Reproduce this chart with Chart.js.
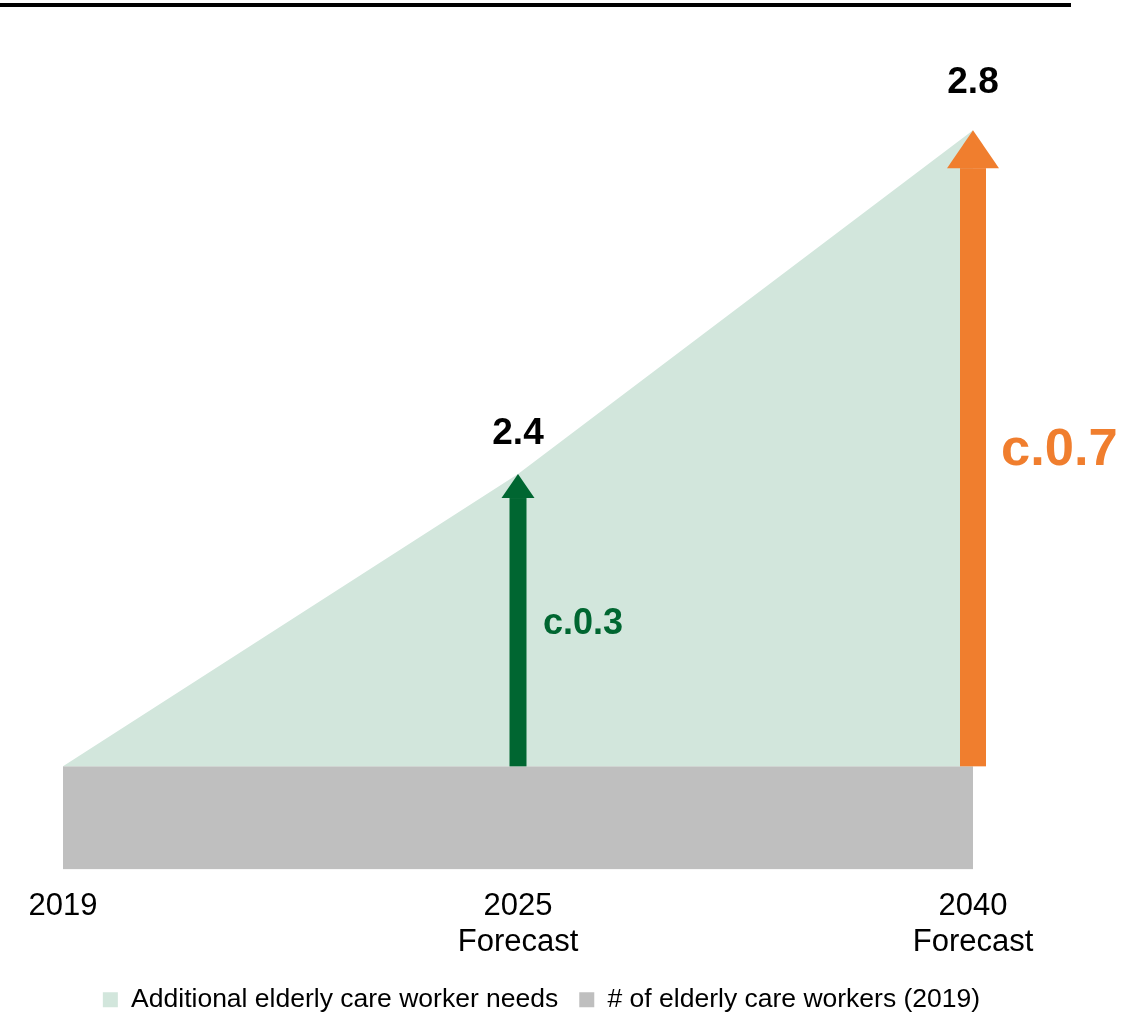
<!DOCTYPE html>
<html>
<head>
<meta charset="utf-8">
<script src="https://cdn.jsdelivr.net/npm/chart.js@4/dist/chart.umd.min.js"></script>
<style>
  html, body { margin: 0; padding: 0; background: #fff; }
  #wrap { position: relative; width: 1137px; height: 1013px; }
  #rule { position: absolute; left: 0; top: 3px; width: 1071px; height: 4px; background: #000; }
  #chart { position: absolute; left: 0; top: 0; }
</style>
</head>
<body>
<div id="wrap">
  <canvas id="chart" width="1137" height="1013"></canvas>
  <div id="rule"></div>
</div>
<script>
// elderly care workers, millions
const years = ['2019', ['2025', 'Forecast'], ['2040', 'Forecast']];
const workers2019 = [2.06, 2.06, 2.06];
const totalNeeds = [2.06, 2.4, 2.8];
const arrowIdx = [1, 2];

const FONT = '"Liberation Sans", Arial, sans-serif';
const LIGHT_GREEN = '#d2e6dc';
const GREY = '#bfbfbf';
const DARK_GREEN = '#006631';
const ORANGE = '#f07e2e';

// per-arrow look: 2025 then 2040
const arrowStyle = [
    { color: DARK_GREEN, shaft: 17, headW: 33, headL: 24, font: 36, dx: 25, dy: 4, gap: 30 },
    { color: ORANGE, shaft: 26, headW: 52, headL: 38, font: 52.5, dx: 28, dy: 2, gap: 37 }
];

const arrows = {
    id: 'arrows',
    afterDatasetsDraw(chart) {
        const ctx = chart.ctx;
        const x = chart.scales.x;
        const y = chart.scales.y;
        arrowIdx.forEach((i, k) => {
            const s = arrowStyle[k];
            const cx = x.getPixelForValue(i);
            const yBase = y.getPixelForValue(workers2019[i]);
            const yTip = y.getPixelForValue(totalNeeds[i]);
            ctx.save();
            ctx.fillStyle = s.color;
            ctx.fillRect(cx - s.shaft / 2, yTip + s.headL, s.shaft, yBase - yTip - s.headL);
            ctx.beginPath();
            ctx.moveTo(cx, yTip);
            ctx.lineTo(cx + s.headW / 2, yTip + s.headL);
            ctx.lineTo(cx - s.headW / 2, yTip + s.headL);
            ctx.closePath();
            ctx.fill();

            // increment label beside the arrow
            const diff = totalNeeds[i] - workers2019[i];
            ctx.font = 'bold ' + s.font + 'px ' + FONT;
            ctx.textAlign = 'left';
            ctx.textBaseline = 'middle';
            ctx.fillText('c.' + diff.toFixed(1), cx + s.dx, (yBase + yTip) / 2 + s.dy);

            // total above the tip
            ctx.fillStyle = '#000';
            ctx.font = 'bold 37px ' + FONT;
            ctx.textAlign = 'center';
            ctx.textBaseline = 'alphabetic';
            ctx.fillText(totalNeeds[i].toFixed(1), cx, yTip - s.gap);
            ctx.restore();
        });
    }
};

new Chart(document.getElementById('chart'), {
    type: 'line',
    data: {
        labels: years,
        datasets: [
            {
                label: 'Additional elderly care worker needs',
                data: totalNeeds,
                fill: 1,
                backgroundColor: LIGHT_GREEN,
                borderColor: LIGHT_GREEN,
                borderWidth: 0,
                pointRadius: 0,
                tension: 0
            },
            {
                label: '# of elderly care workers (2019)',
                data: workers2019,
                fill: 'start',
                backgroundColor: GREY,
                borderColor: GREY,
                borderWidth: 0,
                pointRadius: 0,
                tension: 0
            }
        ]
    },
    options: {
        responsive: false,
        animation: false,
        layout: { padding: { left: 63, right: 117, top: 27, bottom: -10 } },
        scales: {
            x: {
                offset: false,
                grid: { display: false, drawTicks: false },
                border: { display: false },
                ticks: {
                    color: '#000',
                    font: { family: FONT, size: 31, lineHeight: '36px' },
                    padding: 19,
                    maxRotation: 0,
                    autoSkip: false
                },
                afterFit(scale) { scale.height = 96; }
            },
            y: {
                position: 'right',
                min: 1.94,
                max: 2.92,
                grid: { display: false, drawTicks: false },
                border: { display: false },
                ticks: { display: false },
                afterFit(scale) { scale.width = 47; }
            }
        },
        plugins: {
            tooltip: { enabled: false },
            legend: {
                position: 'bottom',
                labels: {
                    color: '#000',
                    font: { family: FONT, size: 26.5 },
                    boxWidth: 15,
                    boxHeight: 15,
                    padding: 21
                }
            }
        }
    },
    plugins: [arrows]
});
</script>
</body>
</html>
